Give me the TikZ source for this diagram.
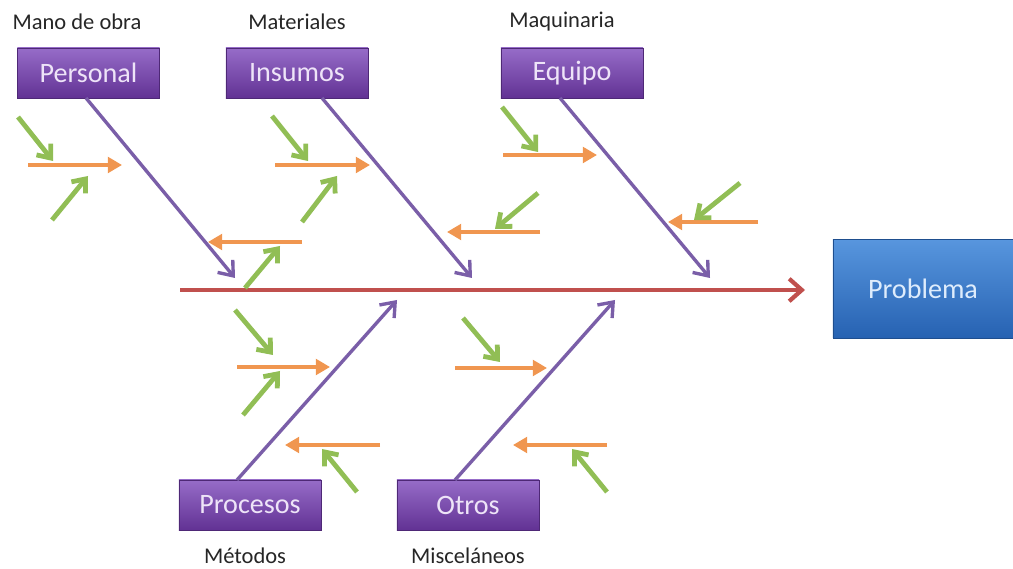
\documentclass[tikz,border=0pt]{standalone}
\usepackage{fontspec}
\setmainfont{Carlito}
\usetikzlibrary{arrows.meta,shadows}
\definecolor{bonepurple}{RGB}{122,94,168}
\definecolor{spinered}{RGB}{192,80,77}
\definecolor{causeorange}{RGB}{240,150,80}
\definecolor{subgreen}{RGB}{145,190,85}
\definecolor{boxtop}{RGB}{150,108,200}
\definecolor{boxbot}{RGB}{98,50,148}
\definecolor{boxtext}{RGB}{238,228,248}
\definecolor{probtop}{RGB}{88,150,222}
\definecolor{probbot}{RGB}{38,98,178}
\definecolor{probtext}{RGB}{222,236,252}
\tikzset{
  catbox/.style={rectangle, draw=boxbot!80!black, line width=0.4pt,
    top color=boxtop, bottom color=boxbot, text=boxtext,
    minimum width=3.55cm, minimum height=1.25cm, inner sep=0pt,
    font=\fontsize{20}{24}\selectfont,
    drop shadow={shadow xshift=0.5pt, shadow yshift=-1pt, opacity=0.35}},
  probbox/.style={rectangle, draw=probbot!80!black, line width=0.4pt,
    top color=probtop, bottom color=probbot, text=probtext,
    minimum width=4.5cm, minimum height=2.47cm, inner sep=0pt,
    font=\fontsize{20}{24}\selectfont,
    drop shadow={shadow xshift=0.5pt, shadow yshift=-1pt, opacity=0.35}},
  grouplabel/.style={text=black!85, font=\fontsize{16}{19}\selectfont, inner sep=0pt},
  spine/.style={spinered, line width=3pt, -{Straight Barb[length=9pt,width=16pt]}},
  bone/.style={bonepurple, line width=2.4pt, -{Straight Barb[length=9pt,width=14pt]}},
  cause/.style={causeorange, line width=3pt, -{Triangle[length=10pt,width=11pt]}},
  subcause/.style={subgreen, line width=3.4pt, -{Straight Barb[length=8pt,width=13pt]}},
}
\begin{document}
\begin{tikzpicture}[x=0.025cm, y=-0.025cm]
\useasboundingbox (0,0) rectangle (1013,569);

% category boxes
\node[catbox] (personal) at (88.5,73) {Personal};
\node[catbox] (insumos)  at (297,73)  {Insumos};
\node[catbox] (equipo)   at (572,73)  {Equipo};
\node[catbox] (procesos) at (250,505) {Procesos};
\node[catbox] (otros)    at (468,505) {Otros};
\node[probbox] (problema) at (923,288.5) {Problema};

% group labels
\node[grouplabel] (lmano) at (77,22)  {Mano de obra};
\node[grouplabel] (lmat)  at (297,22) {Materiales};
\node[grouplabel] (lmaq)  at (562,22) {Maquinaria};
\node[grouplabel] (lmet)  at (245,556) {Métodos};
\node[grouplabel] (lmis)  at (468,556) {Misceláneos};

% spine
\coordinate (sp0) at (180,290);
\coordinate (sp1) at (805,290);
\draw[spine] (sp0) -- (sp1);

% main bones
\coordinate (b1s) at (86,98);   \coordinate (b1e) at (235,278);
\coordinate (b2s) at (322,98);  \coordinate (b2e) at (472,278);
\coordinate (b3s) at (560,98);  \coordinate (b3e) at (710,278);
\coordinate (b4s) at (237,480); \coordinate (b4e) at (397,300);
\coordinate (b5s) at (455,480); \coordinate (b5e) at (615,300);
\draw[bone] (b1s) -- (b1e);
\draw[bone] (b2s) -- (b2e);
\draw[bone] (b3s) -- (b3e);
\draw[bone] (b4s) -- (b4e);
\draw[bone] (b5s) -- (b5e);

% Personal: causes
\coordinate (c1a) at (28,165);  \coordinate (c1b) at (122,165);
\coordinate (c2a) at (302,242); \coordinate (c2b) at (208,242);
\draw[cause] (c1a) -- (c1b);
\draw[cause] (c2a) -- (c2b);
\coordinate (g1a) at (18,117);  \coordinate (g1b) at (53,161);
\coordinate (g2a) at (52,220);  \coordinate (g2b) at (88,176);
\coordinate (g3a) at (245,288); \coordinate (g3b) at (280,246);
\draw[subcause] (g1a) -- (g1b);
\draw[subcause] (g2a) -- (g2b);
\draw[subcause] (g3a) -- (g3b);

% Insumos: causes
\coordinate (c3a) at (275,165); \coordinate (c3b) at (370,165);
\coordinate (c4a) at (540,232); \coordinate (c4b) at (447,232);
\draw[cause] (c3a) -- (c3b);
\draw[cause] (c4a) -- (c4b);
\coordinate (g4a) at (272,116); \coordinate (g4b) at (308,161);
\coordinate (g5a) at (302,222); \coordinate (g5b) at (337,176);
\coordinate (g6a) at (538,193); \coordinate (g6b) at (495,229);
\draw[subcause] (g4a) -- (g4b);
\draw[subcause] (g5a) -- (g5b);
\draw[subcause] (g6a) -- (g6b);

% Equipo: causes
\coordinate (c5a) at (503,155); \coordinate (c5b) at (597,155);
\coordinate (c6a) at (758,222); \coordinate (c6b) at (668,222);
\draw[cause] (c5a) -- (c5b);
\draw[cause] (c6a) -- (c6b);
\coordinate (g7a) at (502,107); \coordinate (g7b) at (538,152);
\coordinate (g8a) at (740,183); \coordinate (g8b) at (694,220);
\draw[subcause] (g7a) -- (g7b);
\draw[subcause] (g8a) -- (g8b);

% Procesos: causes
\coordinate (c7a) at (237,367); \coordinate (c7b) at (330,367);
\coordinate (c8a) at (380,445); \coordinate (c8b) at (285,445);
\draw[cause] (c7a) -- (c7b);
\draw[cause] (c8a) -- (c8b);
\coordinate (g9a) at (235,310);  \coordinate (g9b) at (273,355);
\coordinate (g10a) at (243,415); \coordinate (g10b) at (280,371);
\coordinate (g11a) at (357,492); \coordinate (g11b) at (322,449);
\draw[subcause] (g9a) -- (g9b);
\draw[subcause] (g10a) -- (g10b);
\draw[subcause] (g11a) -- (g11b);

% Otros: causes
\coordinate (c9a) at (455,368);  \coordinate (c9b) at (547,368);
\coordinate (c10a) at (607,445); \coordinate (c10b) at (513,445);
\draw[cause] (c9a) -- (c9b);
\draw[cause] (c10a) -- (c10b);
\coordinate (g12a) at (463,318); \coordinate (g12b) at (500,362);
\coordinate (g13a) at (607,492); \coordinate (g13b) at (572,449);
\draw[subcause] (g12a) -- (g12b);
\draw[subcause] (g13a) -- (g13b);
\end{tikzpicture}
\end{document}
